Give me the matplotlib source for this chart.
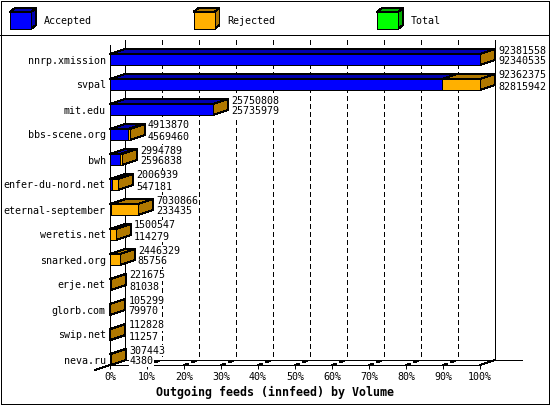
import numpy as np
import matplotlib
matplotlib.use('Agg')
import matplotlib.pyplot as plt
from matplotlib.patches import Polygon, Rectangle

# innfeed volume per peer (top label = total, bottom label = accepted)
hosts = ['nnrp.xmission', 'svpal', 'mit.edu', 'bbs-scene.org', 'bwh',
         'enfer-du-nord.net', 'eternal-september', 'weretis.net',
         'snarked.org', 'erje.net', 'glorb.com', 'swip.net', 'neva.ru']
total = np.array([92381558, 92362375, 25750808, 4913870, 2994789, 2006939,
                  7030866, 1500547, 2446329, 221675, 105299, 112828, 307443])
accepted = np.array([92340535, 82815942, 25735979, 4569460, 2596838, 547181,
                     233435, 114279, 85756, 81038, 79970, 11257, 4380])
rejected = total - accepted

pct_ticks = np.arange(0, 101, 10)
tick_labels = [f'{p}%' for p in pct_ticks]
legend_names = ['Accepted', 'Rejected', 'Total']
title = 'Outgoing feeds (innfeed) by Volume'

face = {'Accepted': '#0000ff', 'Rejected': '#ffb000', 'Total': '#00ff00'}
shade = {'Accepted': '#0000b0', 'Rejected': '#b07800', 'Total': '#00b000'}

plt.rcParams['font.family'] = ['DejaVu Sans Mono']
plt.rcParams['lines.antialiased'] = False
plt.rcParams['patch.antialiased'] = False

W, H = 550, 405
LW = 0.72
FS = 7.2

fig = plt.figure(figsize=(W / 100, H / 100), dpi=100)

# pixel layout of the pseudo 3d plot
X0, X1 = 110, 480      # front plane 0% .. 100%
Y0, Y1 = 40, 365
DXP, DYP = 15, 5       # depth offset
n = len(hosts)
SLOT = (Y1 - Y0) / n
BAR_H = 11

frame = fig.add_axes([0, 0, 1, 1], zorder=0)
frame.set_xlim(0, W)
frame.set_ylim(H, 0)
frame.axis('off')

ax = fig.add_axes([X0 / W, 1 - Y1 / H, (X1 - X0) / W, (Y1 - Y0) / H], zorder=1)
ax.set_facecolor('none')
xmax = total.max()
ax.set_xlim(0, xmax)
ax.set_ylim(n, 0)
for s in ax.spines.values():
    s.set_visible(False)

px = xmax / (X1 - X0)   # data units per pixel in x
dx = DXP * px
dy = DYP / SLOT
bh = BAR_H / SLOT

# walls and floor
kw = dict(color='black', lw=LW, clip_on=False, zorder=1)
dash = dict(color='black', lw=LW, clip_on=False, zorder=1, linestyle=(0, (5, 4)))
for p in pct_ticks[1:-1]:
    x = xmax * p / 100
    ax.plot([x + dx, x + dx], [0, n - dy], **dash)
    ax.plot([x, x + dx], [n, n - dy], **dash)
ax.plot([dx, dx], [0, n - dy], **kw)
ax.plot([xmax + dx, xmax + dx], [0, n - dy], **kw)
ax.plot([0, 0], [dy, n], **kw)
ax.plot([0, xmax], [n, n], **kw)
ax.plot([dx, xmax + dx + 27 * px], [n - dy, n - dy], **kw)
ax.plot([-dx, dx], [n + dy, n - dy], **kw)
ax.plot([xmax, xmax + dx], [n, n - dy], **kw)

# bars
ybot = np.arange(n) + 1
ytop = ybot - bh
for i in range(n):
    segs = [(0, accepted[i], 'Accepted'), (accepted[i], total[i], 'Rejected')]
    for a, b, name in segs:
        ax.add_patch(Polygon([(a, ytop[i]), (b, ytop[i]), (b + dx, ytop[i] - dy),
                              (a + dx, ytop[i] - dy)], closed=True,
                             fc=shade[name], ec='black', lw=LW, clip_on=False, zorder=2))
    last = 'Rejected' if rejected[i] > 0 else 'Accepted'
    t = total[i]
    ax.add_patch(Polygon([(t, ytop[i]), (t + dx, ytop[i] - dy), (t + dx, ybot[i] - dy),
                          (t, ybot[i])], closed=True,
                         fc=shade[last], ec='black', lw=LW, clip_on=False, zorder=2))

ax.barh(ybot - bh / 2, accepted, height=bh, color=face['Accepted'],
        edgecolor='black', linewidth=LW, zorder=3, clip_on=False)
ax.barh(ybot - bh / 2, rejected, left=accepted, height=bh, color=face['Rejected'],
        edgecolor='black', linewidth=LW, zorder=3, clip_on=False)

# value labels
box = dict(fc='white', ec='none', pad=0.2)
for i in range(n):
    xt = total[i] + dx + 3 * px
    ax.text(xt, ybot[i] - 14.5 / SLOT, str(total[i]), ha='left', va='center',
            fontsize=FS, bbox=box, zorder=4)
    ax.text(xt, ybot[i] - 3.5 / SLOT, str(accepted[i]), ha='left', va='center',
            fontsize=FS, bbox=box, zorder=4)

ax.set_yticks(ybot - bh / 2)
ax.set_yticklabels(hosts, fontsize=FS)
ax.tick_params(axis='y', length=0, pad=3)
ax.set_xticks(xmax * pct_ticks / 100)
ax.set_xticklabels(tick_labels, fontsize=FS)
ax.tick_params(axis='x', length=2.9, width=LW, pad=2, direction='out')

fig.text(0.5, 1 - 392 / H, title, ha='center', va='center',
         fontsize=8.4, fontweight='bold')

# border and legend
frame.add_patch(Rectangle((0.5, 0.5), W - 1.5, H - 1.5, fill=False, lw=LW, ec='black'))
frame.plot([0, W], [35, 35], color='black', lw=LW)
for k, name in enumerate(legend_names):
    x = 10 + 183.5 * k
    frame.add_patch(Polygon([(x, 12), (x + 21, 12), (x + 26, 8), (x + 5, 8)],
                            closed=True, fc=shade[name], ec='black', lw=LW))
    frame.add_patch(Polygon([(x + 21, 12), (x + 26, 8), (x + 26, 25), (x + 21, 29)],
                            closed=True, fc=shade[name], ec='black', lw=LW))
    frame.add_patch(Rectangle((x, 12), 21, 17, fc=face[name], ec='black', lw=LW))
    frame.text(x + 34, 20.5, name, ha='left', va='center', fontsize=FS)

fig.savefig('out.png', dpi=100)
